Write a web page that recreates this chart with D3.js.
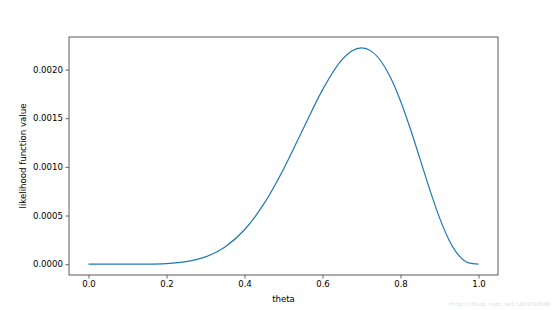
<!DOCTYPE html>
<html>
<head>
<meta charset="utf-8">
<script src="https://cdn.jsdelivr.net/npm/d3@7"></script>
<style>
body { margin: 0; background: #fff; }
text { font-family: "DejaVu Sans", sans-serif; }
</style>
</head>
<body>
<div class="c_chart"></div>
<script>
/* data */
const theta = [0, 0.05, 0.1, 0.15, 0.2, 0.25, 0.3, 0.35, 0.4, 0.45, 0.5,
	0.55, 0.6, 0.65, 0.675, 0.7, 0.725, 0.75, 0.775, 0.8, 0.825, 0.85, 0.875, 0.9, 0.925, 0.95, 0.975, 1.0];
const likelihood = [0, 0.0000000007, 0.000000073, 0.00000105, 0.00000655, 0.0000257, 0.000075, 0.0001767, 0.0003539, 0.0006217, 0.0009766,
	0.0013873, 0.0017916, 0.0021018, 0.0021917, 0.0022236, 0.0021896, 0.0020856, 0.0019128, 0.0016777, 0.001394, 0.0010819, 0.000767,
	0.0004783, 0.0002444, 0.0000873, 0.0000131, 0];
const xTicks = [0.0, 0.2, 0.4, 0.6, 0.8, 1.0];
const yTicks = [0.0000, 0.0005, 0.0010, 0.0015, 0.0020];

const width = 554;
const height = 310;
const margin = {top: 37, right: 56, bottom: 35, left: 69};

let svg = d3.select(".c_chart")
	.append("svg")
	.attr("width", width)
	.attr("height", height);

/* scales, with matplotlib's 5% margins */
let x = d3.scaleLinear()
	.domain([-0.05, 1.05])
	.range([margin.left, width - margin.right]);

let yMax = d3.max(likelihood);
let y = d3.scaleLinear()
	.domain([-0.05 * yMax, 1.05 * yMax])
	.range([height - margin.bottom, margin.top]);

/* axes */
let xAxis = svg.append("g")
	.attr("transform", `translate(0,${height - margin.bottom})`)
	.call(d3.axisBottom(x).tickValues(xTicks).tickFormat(d3.format(".1f")).tickSize(3.5).tickSizeOuter(0));

let yAxis = svg.append("g")
	.attr("transform", `translate(${margin.left},0)`)
	.call(d3.axisLeft(y).tickValues(yTicks).tickFormat(d3.format(".4f")).tickSize(3.5).tickSizeOuter(0));

svg.selectAll(".domain").remove();
svg.selectAll(".tick line").attr("stroke", "#000").attr("stroke-width", 0.6);
svg.selectAll(".tick text")
	.attr("fill", "#000")
	.style("font-size", "8.6px")
	.style("font-family", "DejaVu Sans");
xAxis.selectAll(".tick text").attr("dy", "0.71em").attr("y", 6);
yAxis.selectAll(".tick text").attr("x", -6);

/* frame */
svg.append("rect")
	.attr("x", margin.left)
	.attr("y", margin.top)
	.attr("width", width - margin.left - margin.right)
	.attr("height", height - margin.top - margin.bottom)
	.attr("fill", "none")
	.attr("stroke", "#333")
	.attr("stroke-width", 0.8);

/* line */
let line = d3.line()
	.x((d, i) => x(theta[i]))
	.y(d => y(d))
	.curve(d3.curveMonotoneX);

svg.append("path")
	.datum(likelihood)
	.attr("d", line)
	.attr("fill", "none")
	.attr("stroke", "#1f77b4")
	.attr("stroke-width", 1.2);

/* labels */
svg.append("text")
	.attr("x", (margin.left + width - margin.right) / 2)
	.attr("y", 302)
	.attr("text-anchor", "middle")
	.style("font-size", "8.6px")
	.text("theta");

svg.append("text")
	.attr("transform", `translate(26,${(margin.top + height - margin.bottom) / 2}) rotate(-90)`)
	.attr("text-anchor", "middle")
	.style("font-size", "8.6px")
	.text("likelihood function value");

svg.append("text")
	.attr("x", 550)
	.attr("y", 306)
	.attr("text-anchor", "end")
	.attr("fill", "#ddd")
	.style("font-size", "5.4px")
	.style("font-family", "DejaVu Sans Mono")
	.text("http://blog.csdn.net/u011508640");
</script>
</body>
</html>
